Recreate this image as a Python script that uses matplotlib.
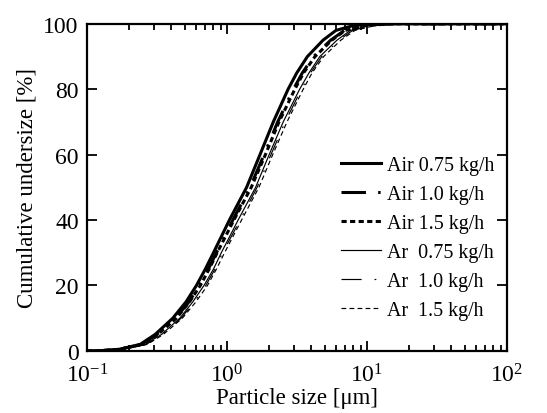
import matplotlib
matplotlib.use("Agg")
import matplotlib.pyplot as plt
from matplotlib.ticker import LogLocator, NullFormatter, MultipleLocator

plt.rcParams['font.family'] = ['Liberation Serif', 'DejaVu Serif']
plt.rcParams['mathtext.fontset'] = 'custom'
plt.rcParams['mathtext.rm'] = 'Liberation Serif'
plt.rcParams['mathtext.it'] = 'Liberation Serif:italic'
plt.rcParams['axes.unicode_minus'] = False

# cumulative undersize levels [%]
levels = [0, 0, 0.5, 2, 5, 10, 15, 20, 25, 30, 40, 50, 60, 70, 80, 85, 90, 95, 98, 99.5, 100, 100]

# particle size [um] at which each run reaches those levels
air_075 = [0.1, 0.12, 0.17, 0.24, 0.306, 0.41, 0.51, 0.605, 0.70, 0.80, 1.04, 1.38,
           1.72, 2.14, 2.73, 3.15, 3.75, 4.85, 6.0, 8.0, 12, 100]
air_10 = [0.1, 0.12, 0.17, 0.245, 0.315, 0.43, 0.535, 0.635, 0.735, 0.84, 1.10, 1.46,
          1.84, 2.30, 2.98, 3.45, 4.15, 5.5, 6.9, 9.5, 14, 100]
air_15 = [0.1, 0.12, 0.172, 0.248, 0.32, 0.435, 0.54, 0.645, 0.745, 0.85, 1.12, 1.49,
          1.88, 2.35, 3.05, 3.52, 4.25, 5.6, 7.0, 9.8, 15, 100]
ar_075 = [0.1, 0.125, 0.18, 0.26, 0.34, 0.46, 0.57, 0.685, 0.80, 0.91, 1.20, 1.60,
          2.0, 2.52, 3.3, 3.85, 4.6, 6.1, 7.6, 10.5, 16, 100]
ar_10 = [0.1, 0.125, 0.182, 0.265, 0.345, 0.47, 0.585, 0.705, 0.82, 0.93, 1.24, 1.64,
         2.06, 2.6, 3.4, 3.95, 4.75, 6.3, 7.9, 11, 17, 100]
ar_15 = [0.1, 0.125, 0.185, 0.27, 0.35, 0.48, 0.60, 0.725, 0.84, 0.96, 1.27, 1.69,
         2.12, 2.68, 3.5, 4.05, 4.9, 6.5, 8.2, 11.5, 18, 100]

labels = ["Air 0.75 kg/h", "Air 1.0 kg/h", "Air 1.5 kg/h",
          "Ar  0.75 kg/h", "Ar  1.0 kg/h", "Ar  1.5 kg/h"]

fig = plt.figure(figsize=(5.47, 4.14), dpi=100)
ax = fig.add_axes([0.159, 0.150, 0.768, 0.790])

ax.plot(air_075, levels, color='black', lw=2.2, ls='-', label=labels[0])
ax.plot(air_10, levels, color='black', lw=2.2, ls=(0, (8, 4, 0.8, 4)), label=labels[1])
ax.plot(air_15, levels, color='black', lw=2.2, ls=(0, (1.7, 1.1)), label=labels[2])
ax.plot(ar_075, levels, color='black', lw=0.85, ls='-', label=labels[3])
ax.plot(ar_10, levels, color='black', lw=0.85, ls=(0, (17, 11, 1.5, 11)), label=labels[4])
ax.plot(ar_15, levels, color='black', lw=0.85, ls=(0, (4, 2.8)), label=labels[5])

ax.set_xscale('log')
ax.set_xlim(0.1, 100)
ax.set_ylim(0, 100)
ax.yaxis.set_major_locator(MultipleLocator(20))
ax.xaxis.set_major_locator(LogLocator(base=10, numticks=10))
ax.xaxis.set_minor_locator(LogLocator(base=10, subs=range(2, 10), numticks=20))
ax.xaxis.set_minor_formatter(NullFormatter())

ax.tick_params(which='both', direction='in', top=True, right=True, labelsize=17, width=1.3)
ax.tick_params(which='major', length=7)
ax.tick_params(which='minor', length=4)
ax.tick_params(axis='x', which='major', pad=9)
ax.tick_params(axis='y', which='major', pad=6)
for s in ax.spines.values():
    s.set_linewidth(1.6)

ax.set_xlabel("Particle size [μm]", fontsize=16.5, labelpad=0)
ax.set_ylabel("Cumulative undersize [%]", fontsize=16.5, labelpad=4)

ax.legend(loc='center left', bbox_to_anchor=(0.605, 0.345), frameon=False,
          fontsize=14.4, handlelength=2.0, handletextpad=0.3, labelspacing=0.5,
          borderpad=0, borderaxespad=0)

fig.savefig("out.png", dpi=100)
